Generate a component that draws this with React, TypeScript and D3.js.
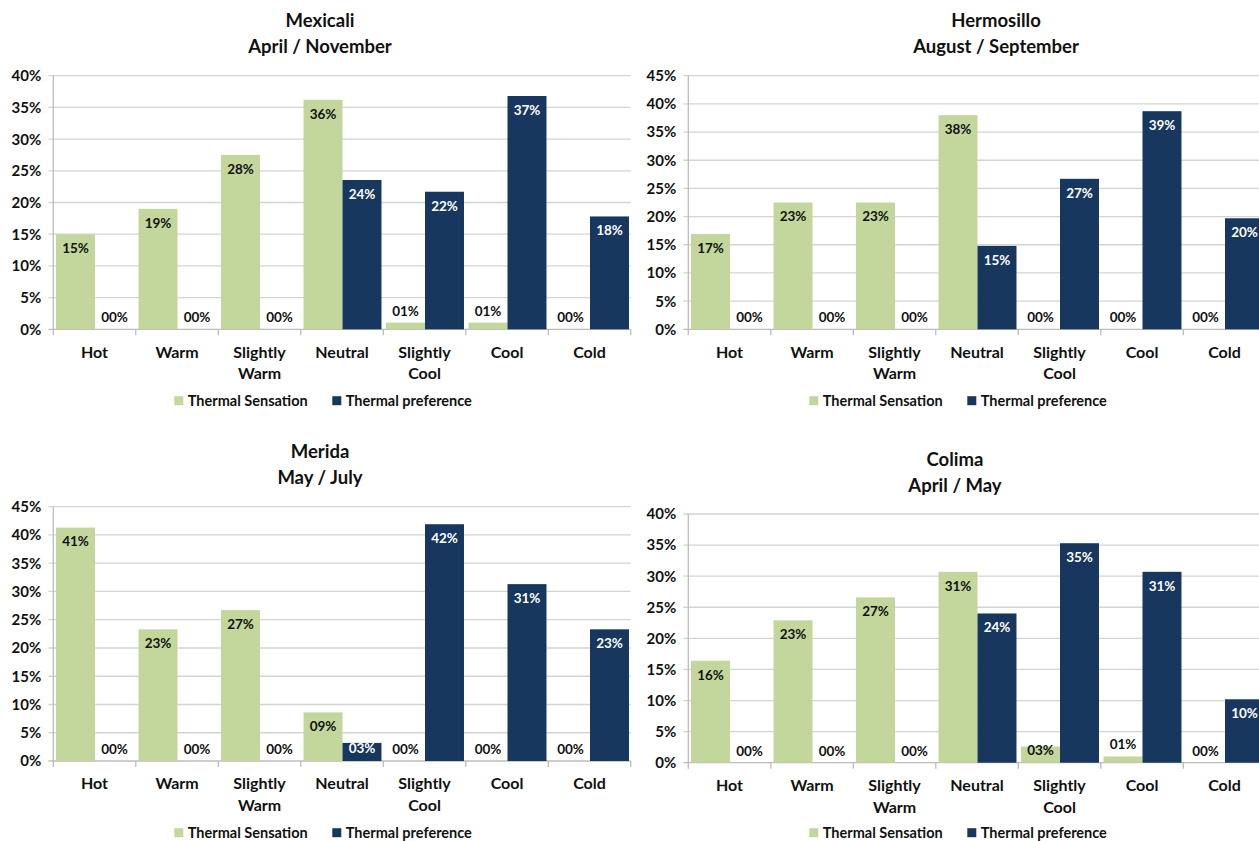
import React from "react";
import * as d3 from "d3";

// ---------- DATA ----------
const categories = ["Hot", "Warm", "Slightly Warm", "Neutral", "Slightly Cool", "Cool", "Cold"];
const seriesNames = ["Thermal Sensation", "Thermal preference"];
const cities = ["Mexicali", "Hermosillo", "Merida", "Colima"];
const periods = ["April / November", "August / September", "May / July", "April / May"];
const yMaxes = [0.4, 0.45, 0.45, 0.4];

const mexicaliSensation = [0.15, 0.19, 0.275, 0.362, 0.0104, 0.0104, 0];
const mexicaliPreference = [0, 0, 0, 0.2355, 0.217, 0.368, 0.178];
const hermosilloSensation = [0.169, 0.225, 0.225, 0.38, 0, 0, 0];
const hermosilloPreference = [0, 0, 0, 0.148, 0.267, 0.387, 0.197];
const meridaSensation = [0.413, 0.233, 0.267, 0.086, 0, 0, 0];
const meridaPreference = [0, 0, 0, 0.032, 0.419, 0.313, 0.233];
const colimaSensation = [0.164, 0.229, 0.266, 0.307, 0.026, 0.01, 0];
const colimaPreference = [0, 0, 0, 0.24, 0.353, 0.307, 0.102];

const sensationByCity = [mexicaliSensation, hermosilloSensation, meridaSensation, colimaSensation];
const preferenceByCity = [mexicaliPreference, hermosilloPreference, meridaPreference, colimaPreference];

// ---------- STYLE / LAYOUT ----------
const COLORS = ["#c3d69b", "#17375e"];
const FONT = "Lato, 'Open Sans', sans-serif";
const TEXT = "#111";
const GRID = "#d4d4d4";
const AXIS = "#bcbcbc";

const panels = [
  { left: 53.3, top: 75.7, bottom: 329.3, titleX: 320, titleY: 27, legendY: 400.7 },
  { left: 688.3, top: 75.7, bottom: 329.3, titleX: 996, titleY: 27, legendY: 400.7 },
  { left: 53.3, top: 506.7, bottom: 761, titleX: 320, titleY: 458, legendY: 832.7 },
  { left: 688.3, top: 514, bottom: 762.7, titleX: 955, titleY: 466, legendY: 832.7 },
];
const STEP = 82.5;

const fmtLabel = (v: number) => String(Math.round(v * 100)).padStart(2, "0") + "%";
const fmtTick = d3.format(".0%");

function Panel({ idx }: { idx: number }) {
  const p = panels[idx];
  const yMax = yMaxes[idx];
  const values = [sensationByCity[idx], preferenceByCity[idx]];
  const right = p.left + STEP * categories.length;

  const x0 = d3.scaleBand<string>().domain(categories).range([p.left, right]).padding(0);
  const x1 = d3
    .scaleBand<string>()
    .domain(seriesNames)
    .range([x0.bandwidth() * 0.033, x0.bandwidth() * 0.978])
    .padding(0);
  const y = d3.scaleLinear().domain([0, yMax]).range([p.bottom, p.top]);
  const ticks = d3.range(0, yMax + 0.0001, 0.05);

  const bars: any[] = [];
  const labels: any[] = [];
  categories.forEach((c, ci) => {
    seriesNames.forEach((s, si) => {
      const v = values[si][ci];
      const bx = (x0(c) as number) + (x1(s) as number);
      const bw = x1.bandwidth();
      const top = y(v);
      const h = y(0) - top;
      if (h > 0) {
        bars.push(
          <rect key={`b${ci}-${si}`} x={bx} y={top} width={bw} height={h} fill={COLORS[si]} />
        );
      }
      let cy: number;
      let color = TEXT;
      if (h >= 26) {
        cy = top + 14;
        color = si === 1 ? "#fff" : TEXT;
      } else if (h < 10) {
        cy = top - 12;
      } else {
        cy = y(0) - 13;
        color = si === 1 ? "#fff" : TEXT;
      }
      labels.push(
        <text
          key={`l${ci}-${si}`}
          x={bx + bw / 2}
          y={cy}
          dy="0.36em"
          textAnchor="middle"
          fontSize={13.5}
          fontWeight={700}
          fill={color}
        >
          {fmtLabel(v)}
        </text>
      );
    });
  });

  return (
    <g>
      {/* title */}
      <text x={p.titleX} y={p.titleY} textAnchor="middle" fontSize={18.5} fontWeight={700} fill={TEXT}>
        {cities[idx]}
      </text>
      <text x={p.titleX} y={p.titleY + 26} textAnchor="middle" fontSize={18.5} fontWeight={700} fill={TEXT}>
        {periods[idx]}
      </text>

      {/* gridlines + y ticks */}
      {ticks.map((t) => (
        <g key={`t${t}`}>
          <line
            x1={p.left - 5}
            x2={right}
            y1={y(t)}
            y2={y(t)}
            stroke={t === 0 ? AXIS : GRID}
            strokeWidth={1.3}
          />
          <text
            x={p.left - 12}
            y={y(t)}
            dy="0.36em"
            textAnchor="end"
            fontSize={15}
            fontWeight={700}
            fill={TEXT}
          >
            {fmtTick(t)}
          </text>
        </g>
      ))}
      {/* y axis line */}
      <line x1={p.left} x2={p.left} y1={p.top} y2={p.bottom} stroke={AXIS} strokeWidth={1.3} />

      {/* bars */}
      {bars}

      {/* x ticks */}
      {d3.range(categories.length + 1).map((i) => (
        <line
          key={`xt${i}`}
          x1={p.left + i * x0.step()}
          x2={p.left + i * x0.step()}
          y1={p.bottom}
          y2={p.bottom + 6}
          stroke={AXIS}
          strokeWidth={1.3}
        />
      ))}

      {/* category labels */}
      {categories.map((c) => {
        const lines = c.split(" ");
        const cx = (x0(c) as number) + x0.bandwidth() / 2;
        return (
          <text key={`c${c}`} textAnchor="middle" fontSize={16} fontWeight={700} fill={TEXT}>
            {lines.map((ln, li) => (
              <tspan key={li} x={cx} y={p.bottom + 28.4 + li * 21.5}>
                {ln}
              </tspan>
            ))}
          </text>
        );
      })}

      {/* data labels */}
      {labels}

      {/* legend */}
      {seriesNames.map((s, si) => {
        const lx = p.left + (si === 0 ? 121 : 279);
        return (
          <g key={`lg${si}`}>
            <rect x={lx} y={p.legendY - 4.5} width={9} height={9} fill={COLORS[si]} />
            <text
              x={lx + 13.5}
              y={p.legendY}
              dy="0.36em"
              fontSize={14.5}
              fontWeight={700}
              fill={TEXT}
            >
              {s}
            </text>
          </g>
        );
      })}
    </g>
  );
}

export default function App() {
  return (
    <svg
      width={1259}
      height={841}
      style={{ position: "absolute", left: 0, top: 0, display: "block", background: "#fff" }}
      fontFamily={FONT}
    >
      <rect x={0} y={0} width={1259} height={841} fill="#fff" />
      {cities.map((c, i) => (
        <Panel key={c} idx={i} />
      ))}
    </svg>
  );
}
